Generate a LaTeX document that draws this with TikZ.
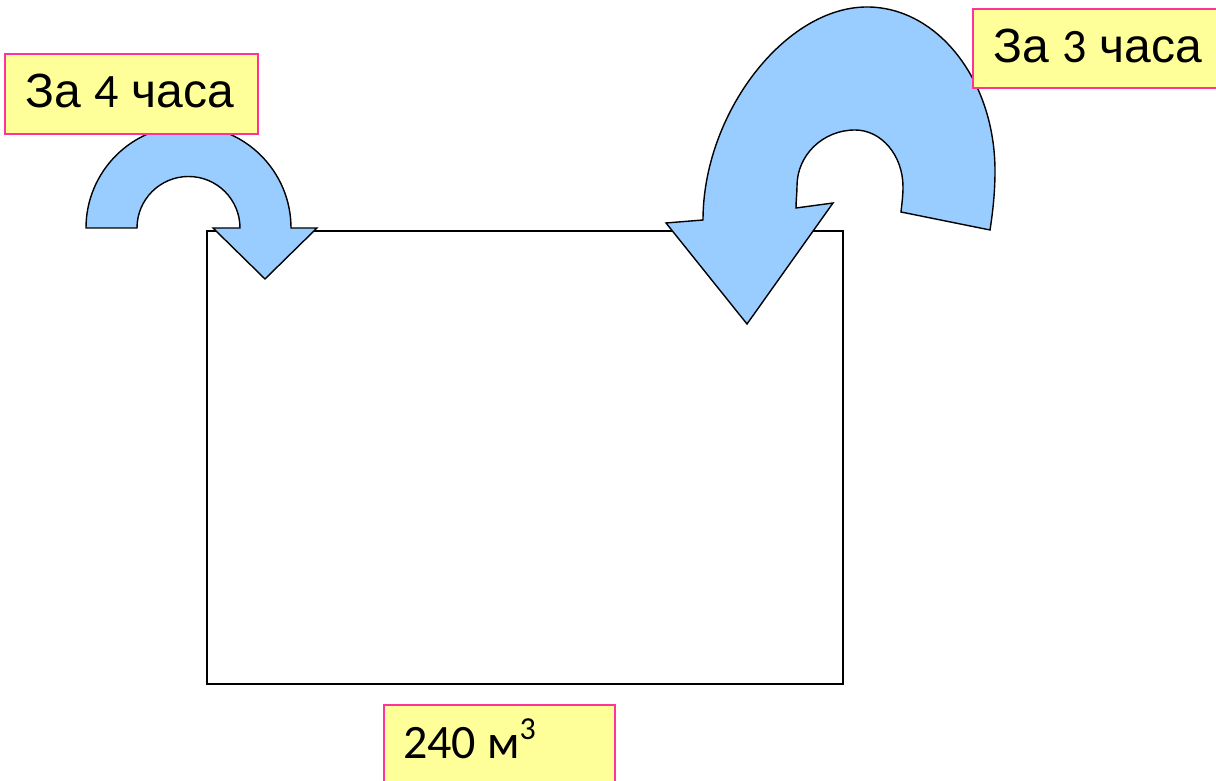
\documentclass[tikz,border=0pt]{standalone}
\usepackage{fontspec}
\setmainfont{Liberation Sans}
\newfontfamily\digitfont{Carlito}
\definecolor{arrowblue}{HTML}{99CCFF}
\definecolor{notefill}{HTML}{FFFF99}
\definecolor{noteedge}{HTML}{FF3399}
\tikzset{
  tankbox/.style={draw=black, line width=1.6pt, fill=white},
  bentarrow/.style={draw=black, line width=1.4pt, fill=arrowblue, line join=miter},
  notebox/.style={draw=noteedge, line width=1.6pt, fill=notefill},
  notetext/.style={anchor=base west, inner sep=0pt, font=\fontsize{48}{58}\selectfont},
}
\begin{document}
\begin{tikzpicture}[x=1pt,y=1pt]
\clip (0,0) rectangle (1216,781);
\useasboundingbox (0,0) rectangle (1216,781);

% the tank
\node[tankbox, anchor=south west, minimum width=636pt, minimum height=453pt,
      inner sep=0pt] (tank) at (206,96) {};

% small bent arrow (left)
\path[bentarrow] (86,553) arc[start angle=180, end angle=0, radius=102.5]
  -- (317,553) -- (265,502) -- (213,553) -- (240,553)
  arc[start angle=0, end angle=180, radius=51.5] -- cycle;

% large bent arrow (right): outer rim, tail, inner rim, then the head
\path[bentarrow] (703,561)
  .. controls (703,667.5) and (785,774) .. (867,774)
  .. controls (937.7,774) and (995,700.5) .. (995,610)
  .. controls (995,590) and (993,570) .. (990,551)
  -- (901,569)
  .. controls (902,578) and (903,586) .. (903,594)
  .. controls (903,625.5) and (881.5,651) .. (855,651)
  .. controls (823,651) and (797,626) .. (797,595)
  .. controls (797,588) and (796,580) .. (796,573)
  -- (833,578) -- (747,457) -- (666,558) -- cycle;

% labels
\draw[notebox] (5,647) rectangle (258,727);
\node[notetext] (lblfour) at (25,673) {За {\digitfont 4} часа};

\draw[notebox] (973,693) rectangle (1230,772);
\node[notetext] (lblthree) at (993,718) {За {\digitfont 3} часа};

\draw[notebox] (384,-10) rectangle (615,76);
\node[notetext, font=\fontsize{48}{58}\selectfont\digitfont] (lblvol) at (403,22)
  {240 м\raisebox{19pt}{\fontsize{32}{38}\selectfont 3}};
\end{tikzpicture}
\end{document}
